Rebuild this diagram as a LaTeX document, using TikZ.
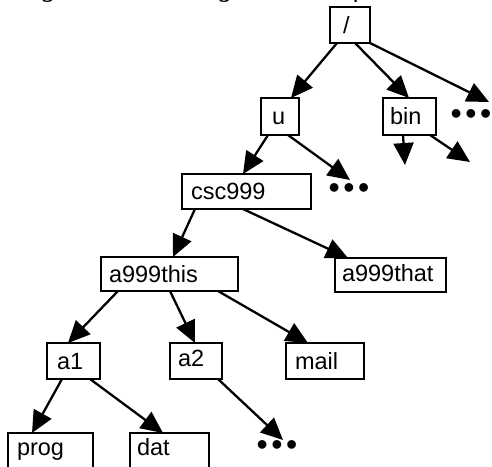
\documentclass[tikz,border=0pt]{standalone}
\usepackage{fontspec}
\setmainfont{Liberation Sans}
\newfontfamily\capfont{Liberation Serif}
\usetikzlibrary{arrows.meta}
\tikzset{
  box/.style={draw, line width=2pt, anchor=north west, outer sep=0pt, inner ysep=0pt,
    align=left, text height=16.5pt, text depth=0pt, font=\fontsize{23.5pt}{26pt}\selectfont},
  link/.style={line width=2.3pt, -{Triangle[length=22pt,width=20pt]}},
  dots/.style={inner sep=0pt, font=\fontsize{32pt}{34pt}\selectfont},
  caption/.style={anchor=base west, inner sep=0pt, font=\capfont\itshape\fontsize{28pt}{30pt}\selectfont}
}
\newcommand{\threedots}{\textbullet\hspace{3.6pt}\textbullet\hspace{3.6pt}\textbullet}
\begin{document}
\begin{tikzpicture}[x=1pt,y=-1pt]
\clip (0,0) rectangle (492,466);
\fill[white] (0,0) rectangle (492,466);
\node[caption] (cap) at (7,-3.5) {diagram illustrating the UNIX file structure};
% boxes
\node[box, minimum height=36pt, inner xsep=13pt, text width=14pt] (root) at (330,7) {/};
\node[box, minimum height=37pt, inner xsep=11pt, text width=16pt] (u) at (261,98) {u};
\node[box, minimum height=37pt, inner xsep=7pt, text width=39pt] (bin) at (383,98) {bin};
\node[box, minimum height=35pt, inner xsep=9pt, text width=111pt] (csc) at (182,174) {csc999};
\node[box, minimum height=34pt, inner xsep=8pt, text width=121pt] (this) at (101,257) {a999this};
\node[box, minimum height=34pt, inner xsep=7pt, text width=97pt, text height=12pt] (that) at (335,258) {a999that};
\node[box, minimum height=36pt, inner xsep=10pt, text width=33pt] (a1) at (47,343) {a1};
\node[box, minimum height=36pt, inner xsep=8pt, text width=36pt, text height=10pt] (a2) at (170,343) {a2};
\node[box, minimum height=36pt, inner xsep=9pt, text width=60pt] (mail) at (286,343) {mail};
\node[box, minimum height=36pt, inner xsep=9pt, text width=67pt, text height=9pt] (prog) at (8,433) {prog};
\node[box, minimum height=36pt, inner xsep=7pt, text width=65pt, text height=9pt] (dat) at (130,433) {dat};
% dots
\node[dots] (dotsR) at (471,117) {\threedots};
\node[dots] (dotsU) at (349,191) {\threedots};
\node[dots] (dotsA) at (277,448) {\threedots};
\coordinate (binD) at (405,165);
\coordinate (binR) at (470,162);
% links
\draw[link] ([xshift=7pt]root.south west) -- ([xshift=30pt]u.north west);
\draw[link] ([xshift=25pt]root.south west) -- ([xshift=26pt]bin.north west);
\draw[link] (root.south east) -- ([xshift=18pt,yshift=15pt]dotsR.center);
\draw[link] ([xshift=20pt]bin.south west) -- (binD);
\draw[link] ([xshift=-6pt]bin.south east) -- (binR);
\draw[link] ([xshift=7pt]u.south west) -- ([xshift=61pt]csc.north west);
\draw[link] ([xshift=27pt]u.south west) -- ([xshift=1pt,yshift=11pt]dotsU.center);
\draw[link] ([xshift=13pt]csc.south west) -- ([xshift=72pt]this.north west);
\draw[link] ([xshift=61pt]csc.south west) -- ([xshift=13pt]that.north west);
\draw[link] ([xshift=17pt]this.south west) -- ([xshift=21pt]a1.north west);
\draw[link] ([xshift=69pt]this.south west) -- ([xshift=25pt]a2.north west);
\draw[link] ([xshift=117pt]this.south west) -- ([xshift=22pt]mail.north west);
\draw[link] ([xshift=15pt]a1.south west) -- ([xshift=24pt]prog.north west);
\draw[link] ([xshift=43pt]a1.south west) -- ([xshift=33pt]dat.north west);
\draw[link] ([xshift=-4pt]a2.south east) -- ([xshift=6pt,yshift=8pt]dotsA.center);
\end{tikzpicture}
\end{document}
